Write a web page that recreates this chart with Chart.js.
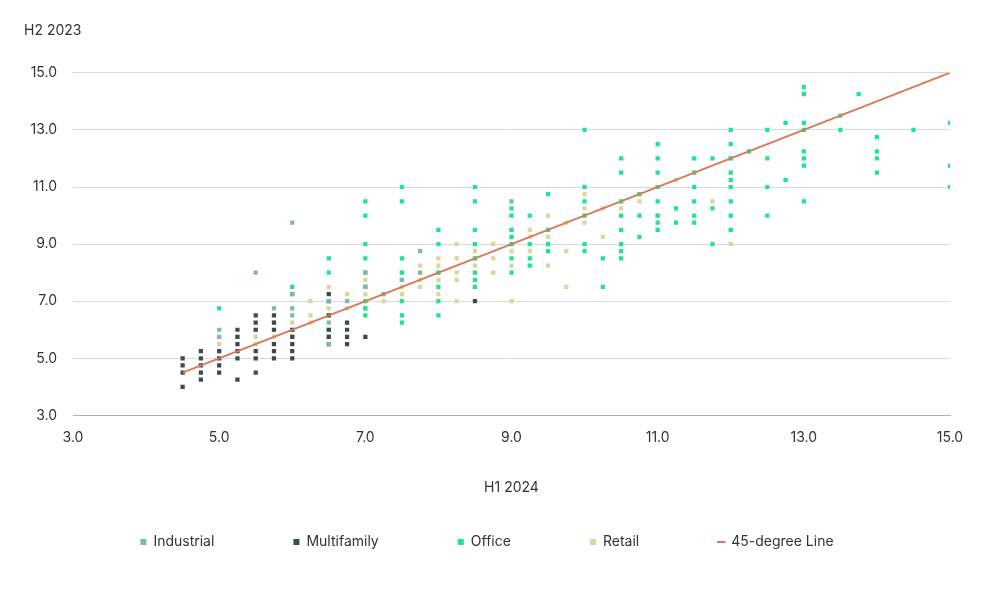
<!DOCTYPE html>
<html>
<head>
<meta charset="utf-8">
<script src="https://cdn.jsdelivr.net/npm/chart.js@4"></script>
<style>
  body { margin: 0; background: #fff; }
</style>
</head>
<body>
<canvas id="chart" width="1000" height="590"></canvas>
<script>
// columns of [x, y...]
const industrialPts = [[5.0,5.75,6.0],[5.5,8.0],[5.75,6.75],[6.0,9.75,7.25,6.75,6.5],[6.5,5.5,6.25,7.0],
  [6.75,7.0],[7.0,7.5,8.0],[7.25,7.25],[7.5,7.75],[7.75,8.0,8.75],[9.0,10.5]];
const multifamilyPts = [[4.5,4.0,4.5,4.75,5.0],[4.75,4.25,4.5,4.75,5.0,5.25],[5.0,4.5,4.75,5.0,5.25],
  [5.25,4.25,5.0,5.25,5.5,5.75,6.0],[5.5,4.5,5.0,5.25,6.0,6.25,6.5],[5.75,5.0,5.25,5.5,6.0,6.25,6.5],
  [6.0,5.0,5.25,5.5,5.75,6.0],[6.5,5.5,5.75,6.0,6.5,7.0,7.25],[6.75,5.5,5.75,6.0,6.25],[7.0,5.75],[8.5,7.0]];
const officePts = [[5.0,6.75],[6.0,7.5,7.25,5.75],[6.5,8.5,8.0,6.0,5.75],
  [7.0,10.5,10.0,9.0,8.5,8.0,7.5,7.0,6.75,6.5],[7.5,11.0,10.5,8.5,8.0,7.0,6.5,6.25],
  [8.0,9.5,9.0,8.0,7.5,7.0,6.5],[8.5,11.0,10.5,9.5,9.0,8.5,8.0,7.75,7.5],
  [9.0,10.25,10.0,9.5,9.25,9.0,8.5,8.0],[9.25,10.0,9.0,8.5,8.25],[9.5,10.75,9.5,9.0,8.75],
  [10.0,13.0,11.0,10.5,10.0,9.0,8.75],[10.25,7.5,8.5],[10.5,12.0,11.5,10.5,10.0,9.5,9.0,8.75,8.5],
  [10.75,10.75,10.0,9.25],[11.0,12.5,12.0,11.5,11.0,10.5,10.0,9.75,9.5],[11.25,10.25,9.75],
  [11.5,12.0,11.5,11.0,10.5,10.0,9.75],[11.75,12.0,10.25,9.0],
  [12.0,13.0,12.5,12.0,11.5,11.25,11.0,10.5,10.0,9.5],[12.25,12.25],[12.5,13.0,12.0,11.0,10.0],
  [12.75,13.25,11.25],[13.0,14.5,14.25,13.25,13.0,12.25,12.0,11.75,10.5],[13.5,13.5,13.0],
  [13.75,14.25],[14.0,12.75,12.25,12.0,11.5],[14.5,13.0],[15.0,13.25,11.75,11.0]];
const retailPts = [[5.0,5.25,5.5],[5.25,5.75],[5.5,5.5,5.75,6.0],[5.75,5.75,6.0,6.25],[6.0,6.0,6.25],
  [6.25,6.25,6.5,7.0],[6.5,6.5,6.75,7.5],[6.75,6.75,7.25],[7.0,6.75,7.0,7.25,7.5,7.75],[7.25,7.0,7.25],
  [7.5,7.25,7.5,7.75,8.0],[7.75,7.5,7.75,8.25],[8.0,7.25,7.75,8.0,8.25,8.5],[8.25,7.0,7.75,8.0,8.5,9.0],
  [8.5,7.5,8.25,8.5,8.75,9.0],[8.75,8.0,8.5,9.0],[9.0,7.0,8.25,8.75,9.0,9.25,9.5],[9.25,8.75,9.25,9.5],
  [9.5,8.25,9.25,9.5,10.0],[9.75,7.5,8.75,9.75],[10.0,9.75,10.0,10.25,10.75],[10.25,9.25,10.25],
  [10.5,9.0,10.25,10.5],[10.75,10.5,10.75],[11.0,10.0,11.0],[11.25,11.25],[11.5,11.5],[11.75,10.5],
  [12.0,9.0,9.5,12.0],[12.25,12.25]];
const lineStart = 4.5, lineEnd = 15;
const xTicks = [3, 5, 7, 9, 11, 13, 15];

function toPoints(cols) {
  const out = [];
  cols.forEach(([x, ...ys]) => ys.forEach(y => out.push({x, y})));
  return out;
}

function scatterSet(label, cols, color) {
  return {
    type: 'scatter', label, data: toPoints(cols),
    backgroundColor: color, borderColor: color, borderWidth: 0,
    pointStyle: 'rect', pointRadius: 3, pointHoverRadius: 3
  };
}

new Chart(document.getElementById('chart'), {
  type: 'scatter',
  data: {
    datasets: [
      scatterSet('Industrial', industrialPts, '#7fb9a8'),
      scatterSet('Multifamily', multifamilyPts, '#3d4b4c'),
      scatterSet('Office', officePts, '#1ee592'),
      scatterSet('Retail', retailPts, '#dcd698'),
      {
        type: 'line', label: '45-degree Line', order: -1,
        data: [{x: lineStart, y: lineStart}, {x: lineEnd, y: lineEnd}],
        borderColor: '#d7795a', backgroundColor: '#d7795a', borderWidth: 2,
        pointRadius: 0, pointStyle: 'line'
      }
    ]
  },
  options: {
    responsive: false,
    animation: false,
    layout: { padding: { left: 24, right: 50, top: 22, bottom: 31 } },
    plugins: {
      title: {
        display: true, text: 'H2 2023', align: 'start',
        color: '#333', font: { family: 'Inter', size: 14, weight: 'normal' },
        padding: { top: 0, bottom: 34 }
      },
      legend: {
        position: 'bottom',
        labels: {
          usePointStyle: true, boxWidth: 6, boxHeight: 6, padding: 20,
          color: '#333', font: { family: 'Inter', size: 14 },
          generateLabels(chart) {
            const items = Chart.defaults.plugins.legend.labels.generateLabels(chart);
            items.sort((a, b) => a.datasetIndex - b.datasetIndex);
            items.forEach((it, i) => {
              it.lineWidth = 0;
              if (i < items.length - 1) it.text += '               ';
            });
            const last = items[items.length - 1];
            last.pointStyle = 'line'; last.lineWidth = 2;
            return items;
          }
        }
      },
      tooltip: { enabled: false }
    },
    scales: {
      x: {
        type: 'linear', min: 3, max: 15,
        afterBuildTicks(axis) { axis.ticks = xTicks.map(v => ({value: v})); },
        grid: { display: false, drawTicks: false },
        border: { color: '#a9b0b3', width: 1 },
        ticks: { color: '#333', padding: 14, font: { family: 'Inter', size: 14 },
                 callback: v => v.toFixed(1) },
        title: { display: true, text: 'H1 2024', color: '#333', align: 'center',
                 font: { family: 'Inter', size: 14 }, padding: { top: 19, bottom: 19 } }
      },
      y: {
        min: 3, max: 15,
        afterFit(axis) { axis.width = 49; },
        ticks: { stepSize: 2, color: '#333', padding: 16, font: { family: 'Inter', size: 14 },
                 callback: v => v.toFixed(1) },
        grid: { color: '#d5dadc', drawTicks: false },
        border: { display: false }
      }
    }
  }
});
</script>
</body>
</html>
